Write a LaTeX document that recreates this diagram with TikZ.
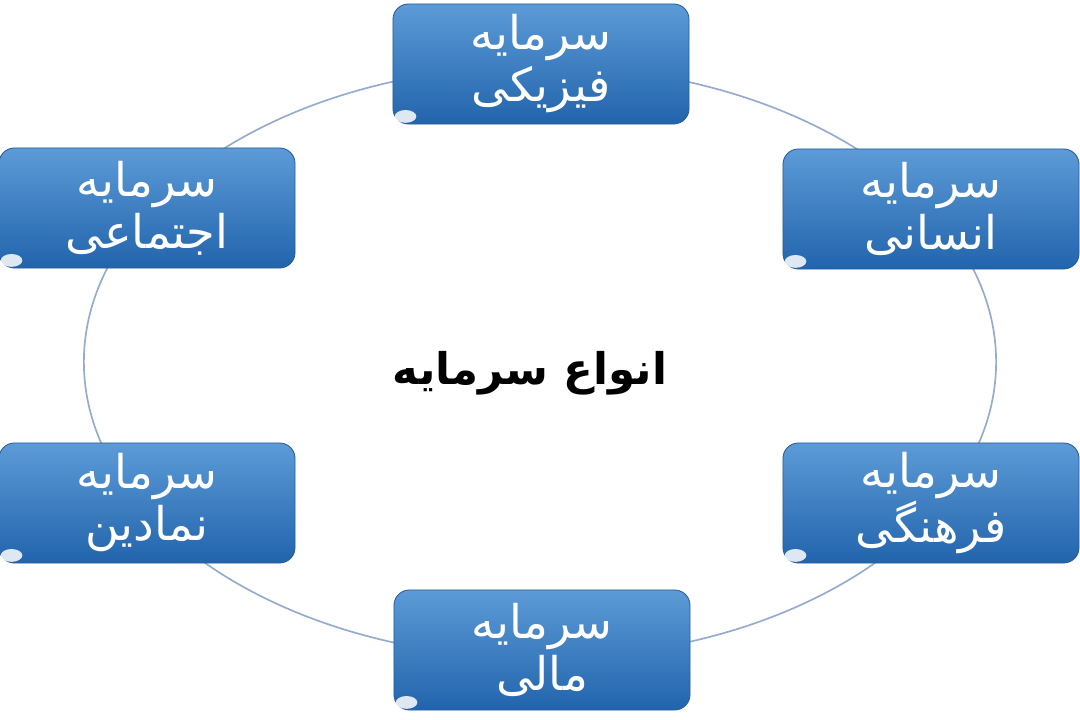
\documentclass[tikz,border=0pt]{standalone}
\usepackage{fontspec}
\usetikzlibrary{calc}
\newfontfamily\farsifont[Script=Arabic]{DejaVu Sans}
\TeXXeTstate=1
\definecolor{boxTop}{RGB}{92,155,215}
\definecolor{boxMid}{RGB}{42,113,186}
\definecolor{boxBot}{RGB}{34,100,172}
\definecolor{boxEdge}{RGB}{40,92,152}
\definecolor{ringCol}{RGB}{150,172,205}

\begin{document}
\begin{tikzpicture}[x=0.025cm, y=-0.025cm,
    capbox/.style={rounded corners=11pt, draw=boxEdge, line width=0.6pt,
      top color=boxTop, middle color=boxMid, bottom color=boxBot,
      text=white, font=\farsifont\fontsize{33}{37}\selectfont, align=center,
      minimum width=7.4cm, minimum height=3cm, inner sep=0pt}]
    \useasboundingbox (0,0) rectangle (1080,720);
    \coordinate (C) at (540,362);

    \draw[ringCol, line width=1.2pt] (C) ellipse [x radius=11.4cm, y radius=7.4cm];

    \node[capbox] (fiz) at (541,64) {\beginR سرمایه\endR\\\beginR فیزیکی\endR};
    \node[capbox] (ens) at (931,209) {\beginR سرمایه\endR\\\beginR انسانی\endR};
    \node[capbox] (far) at (931,503) {\beginR سرمایه\endR\\\beginR فرهنگی\endR};
    \node[capbox] (mal) at (542,650) {\beginR سرمایه\endR\\\beginR مالی\endR};
    \node[capbox] (nam) at (147,503) {\beginR سرمایه\endR\\\beginR نمادین\endR};
    \node[capbox] (ejt) at (147,208) {\beginR سرمایه\endR\\\beginR اجتماعی\endR};

    \foreach \n in {fiz,ens,far,mal,nam,ejt}
      \fill[white, opacity=0.85] ($(\n.south west)+(13,-8)$) ellipse [x radius=0.27cm, y radius=0.16cm];

    \node[font=\farsifont\bfseries\fontsize{31}{34}\selectfont] (title) at (530,373) {\beginR انواع سرمایه\endR};
\end{tikzpicture}
\end{document}
